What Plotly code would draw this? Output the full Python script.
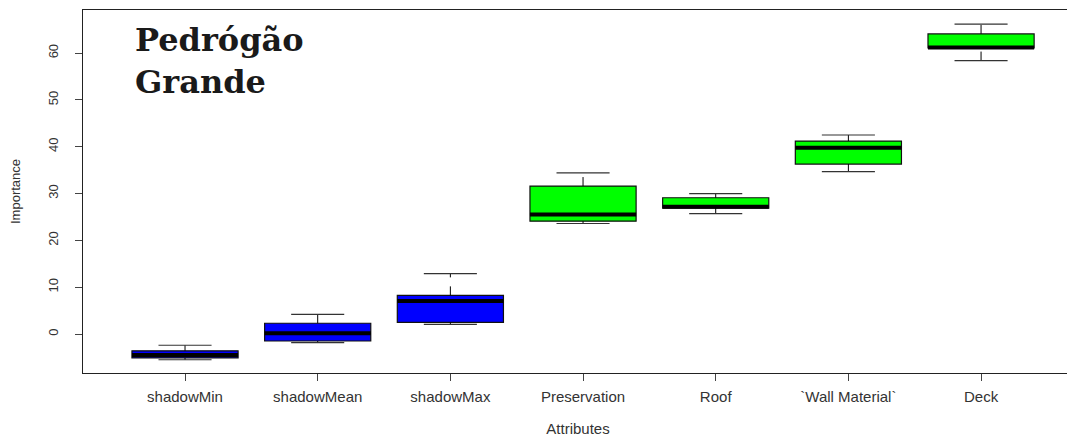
import plotly.graph_objects as go

categories = ["shadowMin", "shadowMean", "shadowMax", "Preservation", "Roof", "`Wall Material`", "Deck"]
whisker_low = [-5.5, -1.85, 2.05, 23.6, 25.7, 34.7, 58.4]
q1 = [-5.1, -1.5, 2.5, 24.1, 26.9, 36.3, 61.1]
median = [-4.5, 0.15, 7.05, 25.5, 27.2, 39.8, 61.2]
q3 = [-3.6, 2.3, 8.25, 31.6, 29.1, 41.2, 64.1]
whisker_high = [-2.4, 4.2, 12.9, 34.4, 30.0, 42.5, 66.2]
fill_colors = ["#0000FF", "#0000FF", "#0000FF", "#00FF00", "#00FF00", "#00FF00", "#00FF00"]
y_ticks = [0, 10, 20, 30, 40, 50, 60]

fig = go.Figure()
positions = list(range(1, len(categories) + 1))
for i, pos in enumerate(positions):
    # dashed whiskers
    fig.add_trace(go.Scatter(x=[pos, pos], y=[whisker_low[i], q1[i]], mode="lines",
                             line=dict(color="black", width=1, dash="dash"),
                             showlegend=False, hoverinfo="skip"))
    fig.add_trace(go.Scatter(x=[pos, pos], y=[q3[i], whisker_high[i]], mode="lines",
                             line=dict(color="black", width=1, dash="dash"),
                             showlegend=False, hoverinfo="skip"))
    # caps
    for w in (whisker_low[i], whisker_high[i]):
        fig.add_trace(go.Scatter(x=[pos - 0.2, pos + 0.2], y=[w, w], mode="lines",
                                 line=dict(color="#333333", width=1.2),
                                 showlegend=False, hoverinfo="skip"))
    # box
    fig.add_trace(go.Box(x=[pos], q1=[q1[i]], median=[median[i]], q3=[q3[i]],
                         lowerfence=[q1[i]], upperfence=[q3[i]],
                         width=0.8, whiskerwidth=0,
                         fillcolor=fill_colors[i], line=dict(color="#111111", width=1.2),
                         showlegend=False, hoverinfo="skip"))
    # thick median
    fig.add_trace(go.Scatter(x=[pos - 0.4, pos + 0.4], y=[median[i], median[i]], mode="lines",
                             line=dict(color="black", width=4),
                             showlegend=False, hoverinfo="skip"))

fig.add_annotation(text="<b>Pedrógão<br>Grande</b>", xref="paper", yref="paper",
                   x=0.05, y=0.975, xanchor="left", yanchor="top", align="left",
                   showarrow=False,
                   font=dict(family="DejaVu Serif", size=32, color="#1a1a1a"))

fig.update_layout(
    width=1075, height=439,
    margin=dict(l=75, r=10, t=2, b=74),
    plot_bgcolor="white", paper_bgcolor="white",
    font=dict(family="Liberation Sans, Arial", size=13, color="#333333"),
)
fig.update_xaxes(
    range=[0.231, 7.693], tickmode="array", tickvals=positions, ticktext=categories,
    showline=True, linecolor="#222222", linewidth=1, mirror=True,
    ticks="outside", ticklen=7, tickcolor="#444444", showgrid=False, zeroline=False,
    ticklabelstandoff=3, tickfont=dict(size=15), automargin=False,
    title=dict(text="Attributes", font=dict(size=15), standoff=19),
)
fig.update_yaxes(
    range=[-8.33, 69.2], tickmode="array", tickvals=y_ticks,
    showline=True, linecolor="#222222", linewidth=1, mirror=False,
    ticks="outside", ticklen=7, tickcolor="#444444", showgrid=False, zeroline=False,
    tickangle=-90, ticklabelstandoff=12, tickfont=dict(size=13), automargin=False,
    title=dict(text="Importance", font=dict(size=13), standoff=22),
)

fig.write_html("out.html")
